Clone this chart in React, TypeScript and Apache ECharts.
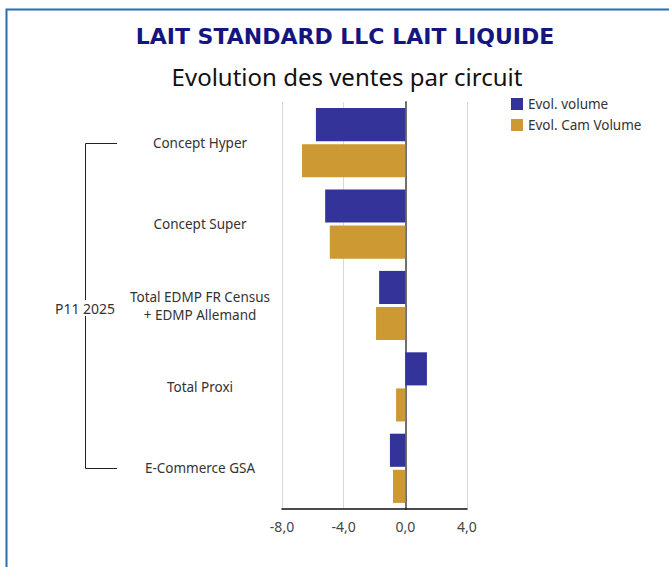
import React, { useEffect, useRef } from "react";
import * as echarts from "echarts";

const categories = [
  "Concept Hyper",
  "Concept Super",
  "Total EDMP FR Census\n+ EDMP Allemand",
  "Total Proxi",
  "E-Commerce GSA",
];
const evolVolume = [-5.8, -5.2, -1.7, 1.4, -1.0];
const evolCamVolume = [-6.7, -4.9, -1.9, -0.6, -0.8];
const seriesNames = ["Evol. volume", "Evol. Cam Volume"];
const groupLabel = "P11 2025";
const title = "LAIT STANDARD LLC LAIT LIQUIDE";
const subtitle = "Evolution des ventes par circuit";

const FONT = "'Noto Sans', 'Open Sans', sans-serif";

export default function App() {
  const ref = useRef<HTMLDivElement>(null);
  useEffect(() => {
    if (!ref.current) return;
    const chart = echarts.init(ref.current, undefined, { renderer: "svg" });
    chart.setOption({
      animation: false,
      backgroundColor: "#ffffff",
      textStyle: { fontFamily: FONT },
      title: [
        {
          text: title,
          left: 345,
          textAlign: "center",
          top: 25,
          padding: 0,
          textStyle: { fontSize: 22, fontWeight: "bold", color: "#15157f", fontFamily: "'DejaVu Sans', sans-serif" },
        },
        {
          text: subtitle,
          left: 347,
          textAlign: "center",
          top: 64,
          padding: 0,
          textStyle: { fontSize: 24, fontWeight: "normal", color: "#111111", fontFamily: FONT },
        },
      ],
      legend: {
        orient: "vertical",
        left: 511,
        top: 97,
        padding: 0,
        itemWidth: 12,
        itemHeight: 12,
        itemGap: 7,
        icon: "rect",
        textStyle: { fontSize: 13.5, color: "#333333", fontFamily: FONT },
        data: seriesNames,
      },
      grid: { left: 282, right: 202, top: 102, bottom: 58, containLabel: false },
      xAxis: {
        type: "value",
        min: -8,
        max: 4,
        interval: 4,
        axisLine: { show: true, lineStyle: { color: "#111111", width: 1.5 } },
        axisTick: { show: false },
        splitLine: { show: true, lineStyle: { color: "#d9d9d9", width: 1 } },
        axisLabel: {
          color: "#444444",
          fontSize: 14,
          margin: 10,
          fontFamily: FONT,
          formatter: (v: number) => v.toFixed(1).replace(".", ","),
        },
      },
      yAxis: {
        type: "category",
        data: categories,
        inverse: true,
        axisLine: { show: true, lineStyle: { color: "#707070", width: 2 } },
        axisTick: { show: false },
        axisLabel: {
          color: "#333333",
          fontSize: 13.5,
          align: "center",
          margin: 82,
          lineHeight: 18,
          fontFamily: FONT,
        },
      },
      series: [
        {
          name: seriesNames[0],
          type: "bar",
          data: evolVolume,
          itemStyle: { color: "#333399" },
          barGap: "9%",
          barCategoryGap: "15%",
        },
        {
          name: seriesNames[1],
          type: "bar",
          data: evolCamVolume,
          itemStyle: { color: "#cc9933" },
          barGap: "9%",
          barCategoryGap: "15%",
        },
      ],
      graphic: [
        {
          type: "rect",
          shape: { x: 6.5, y: 9.5, width: 700, height: 600 },
          style: { fill: "none", stroke: "#2a6db5", lineWidth: 2 },
          silent: true,
        },
        {
          type: "polyline",
          shape: { points: [[117, 143.5], [85.5, 143.5], [85.5, 468.5], [117, 468.5]] },
          style: { fill: "none", stroke: "#222222", lineWidth: 1 },
          silent: true,
        },
        {
          type: "text",
          x: 85,
          y: 308,
          style: {
            text: groupLabel,
            align: "center",
            verticalAlign: "middle",
            fontSize: 14,
            fill: "#333333",
            fontFamily: FONT,
            backgroundColor: "#ffffff",
            padding: [1, 0],
          },
          silent: true,
        },
      ],
    });
    return () => chart.dispose();
  }, []);
  return (
    <div
      ref={ref}
      style={{ position: "fixed", left: 0, top: 0, width: 669, height: 567 }}
    />
  );
}
